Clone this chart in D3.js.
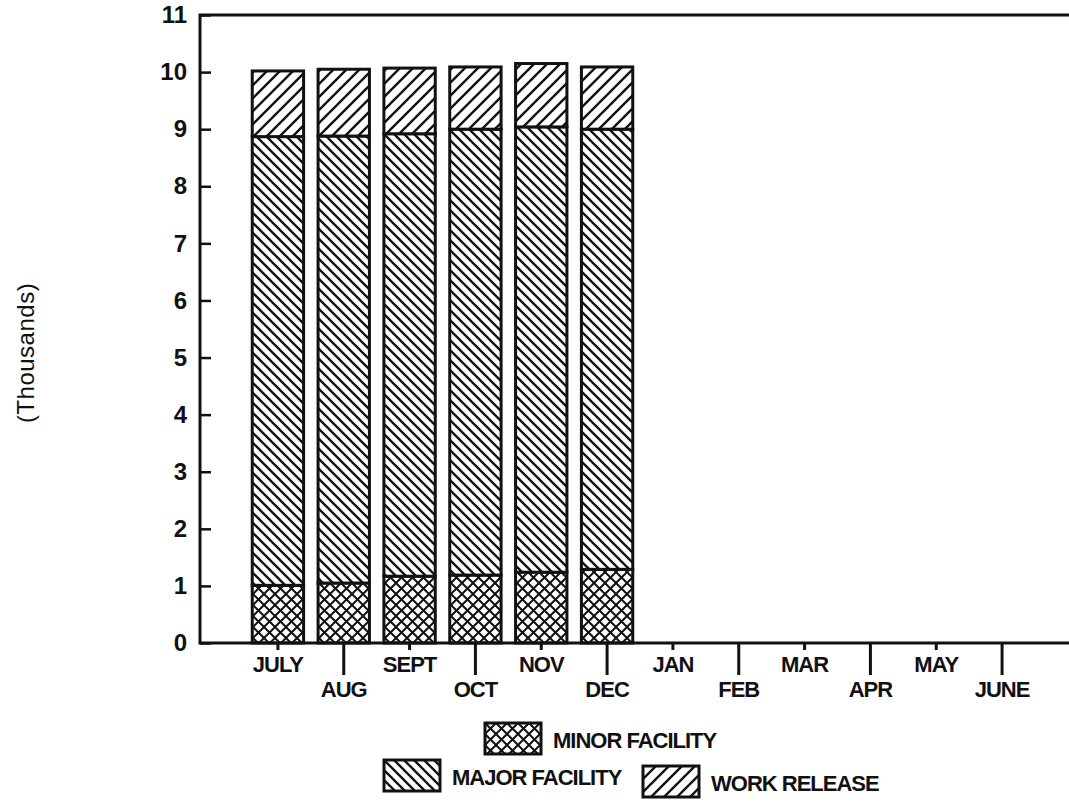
<!DOCTYPE html>
<html>
<head>
<meta charset="utf-8">
<script src="https://cdn.jsdelivr.net/npm/d3@7"></script>
<style>
  body { margin: 0; background: #fff; }
  svg { display: block; }
  text { font-family: "Liberation Sans", Arial, sans-serif; fill: #111; }
</style>
</head>
<body>
<svg id="chart" width="1069" height="802"></svg>
<script>
const months = ['JULY', 'AUG', 'SEPT', 'OCT', 'NOV', 'DEC', 'JAN', 'FEB', 'MAR', 'APR', 'MAY', 'JUNE'];
const barMonths = ['JULY', 'AUG', 'SEPT', 'OCT', 'NOV', 'DEC'];
// thousands
const minorFacility = [1.01, 1.05, 1.17, 1.19, 1.24, 1.29];
const majorFacility = [7.86, 7.83, 7.75, 7.81, 7.80, 7.71];
const workRelease = [1.15, 1.17, 1.15, 1.09, 1.11, 1.09];
const yTicks = [0, 1, 2, 3, 4, 5, 6, 7, 8, 9, 10, 11];

const INK = '#111';
const plotLeft = 200, plotRight = 1069, plotTop = 15, plotBottom = 643;

const svg = d3.select('#chart');
const defs = svg.append('defs');

function hatch(id, size, paths, sw) {
  const p = defs.append('pattern')
    .attr('id', id)
    .attr('patternUnits', 'userSpaceOnUse')
    .attr('width', size)
    .attr('height', size);
  p.append('rect').attr('width', size).attr('height', size).attr('fill', '#fff');
  paths.forEach((d) => {
    p.append('path').attr('d', d).attr('stroke', INK).attr('stroke-width', sw).attr('fill', 'none');
  });
}

function fwd(s) {
  return `M-1,1 l2,-2 M0,${s} l${s},${-s} M${s - 1},${s + 1} l2,-2`;
}
function back(s) {
  return `M-1,${s - 1} l2,2 M0,0 l${s},${s} M${s - 1},-1 l2,2`;
}

hatch('minor', 11, [fwd(11), back(11)], 2);
hatch('major', 10, [back(10)], 2.3);
hatch('work', 13, [fwd(13)], 2.4);

const series = [
  { key: 'minor', label: 'MINOR FACILITY', values: minorFacility },
  { key: 'major', label: 'MAJOR FACILITY', values: majorFacility },
  { key: 'work', label: 'WORK RELEASE', values: workRelease },
];

const x = d3.scaleBand().domain(months).range([245, 1035]).padding(0);
const y = d3.scaleLinear().domain([0, 11]).range([plotBottom, plotTop]);

const rows = barMonths.map((m, i) => {
  const r = { month: m };
  series.forEach((s) => { r[s.key] = s.values[i]; });
  return r;
});
const stacked = d3.stack().keys(series.map((s) => s.key))(rows);

const barW = x.bandwidth() * 0.78;

stacked.forEach((layer) => {
  svg.append('g')
    .selectAll('rect')
    .data(layer)
    .join('rect')
    .attr('x', (d) => x(d.data.month) + (x.bandwidth() - barW) / 2)
    .attr('y', (d) => y(d[1]))
    .attr('width', barW)
    .attr('height', (d) => y(d[0]) - y(d[1]))
    .attr('fill', `url(#${layer.key})`)
    .attr('stroke', INK)
    .attr('stroke-width', 3);
});

// y axis
const yAxis = svg.append('g')
  .attr('transform', `translate(${plotLeft},0)`)
  .call(d3.axisLeft(y).tickValues(yTicks).tickSize(-11).tickSizeOuter(0).tickPadding(13));
yAxis.select('.domain').remove();
yAxis.selectAll('line').attr('stroke', INK).attr('stroke-width', 2.5);
yAxis.selectAll('text')
  .style('font-size', '24px')
  .style('font-weight', 'bold');

// x axis, alternating short / long ticks
function xAxisPart(vals, size) {
  const g = svg.append('g')
    .attr('transform', `translate(0,${plotBottom})`)
    .call(d3.axisBottom(x).tickValues(vals).tickSize(size).tickSizeOuter(0).tickPadding(6));
  g.select('.domain').remove();
  g.selectAll('line').attr('stroke', INK).attr('stroke-width', 3);
  g.selectAll('text')
    .style('font-size', '22px')
    .style('font-weight', 'bold')
    .style('letter-spacing', '-1px');
}
xAxisPart(months.filter((_, i) => i % 2 === 0), 7);
xAxisPart(months.filter((_, i) => i % 2 === 1), 32);

// frame lines
svg.append('path')
  .attr('d', `M${plotRight},${plotTop} H${plotLeft} V${plotBottom} H${plotRight}`)
  .attr('fill', 'none')
  .attr('stroke', INK)
  .attr('stroke-width', 3);

svg.append('text')
  .attr('transform', 'translate(34,353) rotate(-90)')
  .attr('text-anchor', 'middle')
  .style('font-size', '24px')
  .style('letter-spacing', '0.5px')
  .text('(Thousands)');

// legend
const legendItems = [
  { key: 'minor', label: 'MINOR FACILITY', x: 485, y: 723 },
  { key: 'major', label: 'MAJOR FACILITY', x: 384, y: 760 },
  { key: 'work', label: 'WORK RELEASE', x: 643, y: 766 },
];
const legend = svg.append('g')
  .selectAll('g')
  .data(legendItems)
  .join('g')
  .attr('transform', (d) => `translate(${d.x},${d.y})`);
legend.append('rect')
  .attr('width', 56)
  .attr('height', 31)
  .attr('fill', (d) => `url(#${d.key})`)
  .attr('stroke', INK)
  .attr('stroke-width', 3);
legend.append('text')
  .attr('x', 68)
  .attr('y', 25)
  .style('font-size', '22px')
  .style('font-weight', 'bold')
  .style('letter-spacing', '-1px')
  .text((d) => d.label);
</script>
</body>
</html>
